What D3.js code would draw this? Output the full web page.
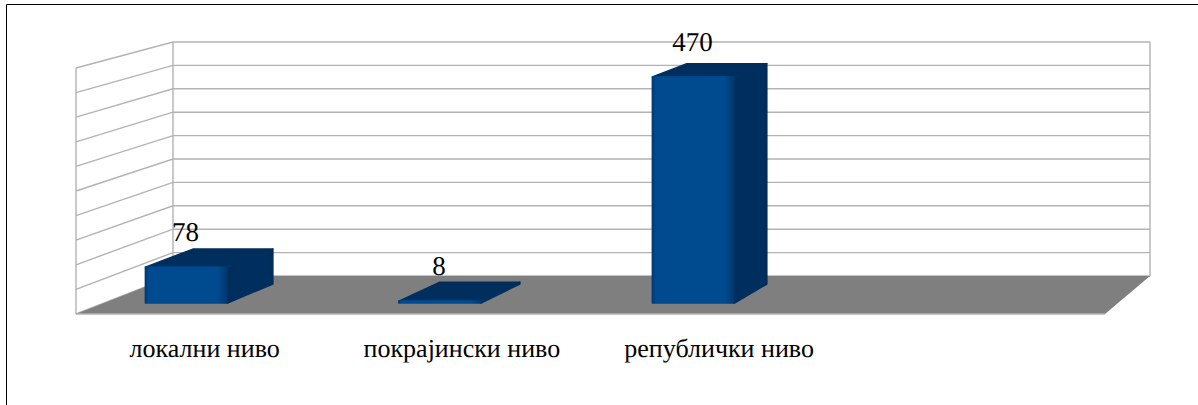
<!DOCTYPE html>
<html><head><meta charset="utf-8">
<script src="https://d3js.org/d3.v7.min.js"></script>
<style>html,body{margin:0;padding:0;background:#fff}svg{display:block}text{text-rendering:geometricPrecision}</style>
</head><body><svg id="c" width="1198" height="405"></svg>
<script>
const categories = ["локални ниво", "покрајински ниво", "републички ниво", ""];
const values = [78, 8, 470, null];
const gridTicks = [0, 50, 100, 150, 200, 250, 300, 350, 400, 450, 500];

const svg = d3.select("#c");
const SERIF = "'Liberation Serif','Times New Roman',serif";

// 3D box of the plot: front plane and back plane
const front = {x0: 76, x1: 1105, y0: 314, y1: 68};
const back  = {x0: 173, x1: 1150, y0: 276, y1: 42};
const frontY = d3.scaleLinear().domain([0, 500]).range([front.y0, front.y1]);
const backY  = d3.scaleLinear().domain([0, 500]).range([back.y0, back.y1]);
const frontX = d3.scaleLinear().domain([0, 1]).range([front.x0, front.x1]);
const backX  = d3.scaleLinear().domain([0, 1]).range([back.x0, back.x1]);
function P(u, v, t) {
  return [frontX(u) + (backX(u) - frontX(u)) * t, frontY(v) + (backY(v) - frontY(v)) * t];
}
const labelX = d3.scaleBand().domain(d3.range(4)).range([front.x0, front.x1]);
const barU = d3.scaleBand().domain(d3.range(4)).range([-0.0438, 0.9562]).paddingInner(0.676).paddingOuter(0.338);
const valueLabelY = d3.scaleLinear().domain([0, 500]).range([278.9, 36.5]);
const T0 = 0.29, T1 = 0.79, TOP_INSET = 2;

const defs = svg.append("defs");
function grad(id, stops, horizontal) {
  const g = defs.append("linearGradient").attr("id", id)
    .attr("x1", 0).attr("y1", 0).attr("x2", horizontal ? 1 : 0).attr("y2", horizontal ? 0 : 1);
  stops.forEach(s => g.append("stop").attr("offset", s[0]).attr("stop-color", s[1]));
}
grad("fr", [[0, "#003a75"], [0.04, "#004a90"], [0.88, "#004a90"], [0.98, "#003a72"], [1, "#003263"]], true);
grad("sd", [[0, "#002c59"], [0.15, "#002f5f"], [0.9, "#002f5f"], [1, "#002a54"]], true);
grad("tp", [[0, "#002d5b"], [0.9, "#002f5f"], [1, "#003b74"]], false);

// frame: only the top and left rules show
svg.append("path").attr("d", "M6.5,405V4.5H1198")
  .attr("fill", "none").attr("stroke", "#000").attr("stroke-width", 1);

const line = d3.line();
const GRID = "#b3b3b3";
const gridG = svg.append("g").attr("fill", "none").attr("stroke", GRID).attr("stroke-width", 1.4);

// walls
gridG.append("path").attr("d", line([P(0, 0, 0), P(0, 500, 0)]));
gridG.append("path").attr("d", line([P(0, 0, 1), P(0, 500, 1)]));
gridG.append("path").attr("d", line([P(1, 0, 1), P(1, 500, 1)]));
gridTicks.forEach(v => {
  gridG.append("path").attr("d", line([P(0, v, 0), P(0, v, 1), P(1, v, 1)]));
});

// floor
svg.append("path")
  .attr("d", line([P(0, 0, 0), P(1, 0, 0), P(1, 0, 1), P(0, 0, 1)]) + "Z")
  .attr("fill", "#7f7f7f");
svg.append("path").attr("d", line([P(0, 0, 0), P(1, 0, 0)]))
  .attr("stroke", GRID).attr("stroke-width", 1.4).attr("fill", "none");

// bars
const barData = values.map((v, i) => ({v, i})).filter(d => d.v !== null);
const bars = svg.append("g").selectAll("g").data(barData).join("g")
  .attr("stroke-linejoin", "round").attr("stroke-width", 1.5);
function face(sel, fn, fill) {
  sel.append("path").attr("d", d => line(fn(d)) + "Z").attr("fill", fill).attr("stroke", fill);
}
const L = d => barU(d.i), R = d => barU(d.i) + barU.bandwidth();
const down = p => [p[0], p[1] + TOP_INSET];
face(bars, d => [P(R(d), 0, T0), P(R(d), 0, T1), down(P(R(d), d.v, T1)), down(P(R(d), d.v, T0))], "url(#sd)");
face(bars, d => [down(P(L(d), d.v, T0)), down(P(R(d), d.v, T0)), down(P(R(d), d.v, T1)), down(P(L(d), d.v, T1))], "url(#tp)");
face(bars, d => [P(L(d), 0, T0), P(R(d), 0, T0), down(P(R(d), d.v, T0)), down(P(L(d), d.v, T0))], "url(#fr)");

// value labels
svg.append("g").selectAll("text").data(barData).join("text")
  .attr("x", d => P(barU(d.i) + barU.bandwidth() / 2, d.v, T0)[0] - 1)
  .attr("y", d => valueLabelY(d.v))
  .attr("text-anchor", "middle")
  .attr("font-family", SERIF).attr("font-size", 27).attr("fill", "#000")
  .text(d => d.v);

// category labels
svg.append("g").selectAll("text").data(categories).join("text")
  .attr("x", (d, i) => labelX(i) + labelX.bandwidth() / 2)
  .attr("y", 357)
  .attr("text-anchor", "middle")
  .attr("font-family", SERIF).attr("font-size", 26).attr("fill", "#000")
  .text(d => d);
</script></body></html>
